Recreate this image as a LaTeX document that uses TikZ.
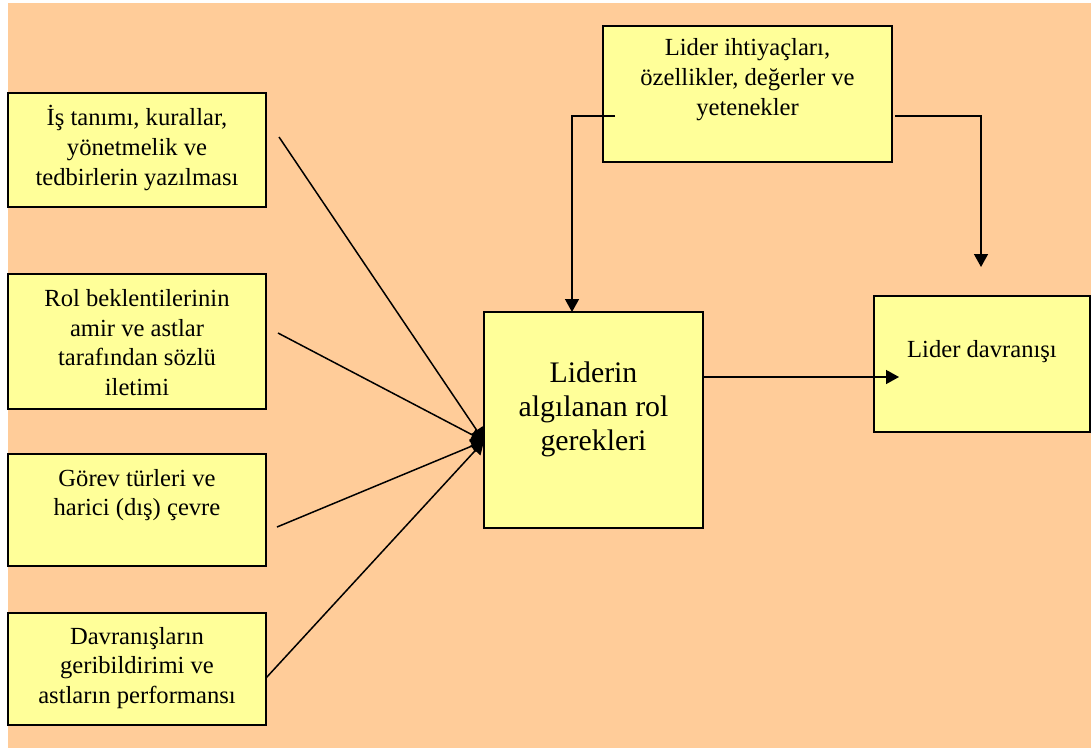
\documentclass[tikz,border=0pt]{standalone}
\usepackage{fontspec}
\setmainfont{Liberation Serif}
\usetikzlibrary{arrows.meta}

\definecolor{peach}{RGB}{255,204,153}
\definecolor{paleyellow}{RGB}{255,255,153}

\tikzset{
  box/.style={draw=black, fill=paleyellow, line width=2pt, inner sep=0pt, outer sep=0pt},
  txt/.style={align=center, inner sep=0pt, font=\fontsize{24.6}{29.7}\selectfont},
  bigtxt/.style={align=center, inner sep=0pt, font=\fontsize{29.8}{34}\selectfont},
  conn/.style={draw=black, line width=1.5pt},
  arr/.style={conn, -{Triangle[length=13pt,width=14pt]}},
}

\begin{document}
\begin{tikzpicture}[x=1pt, y=-1pt]
  \useasboundingbox (0,0) rectangle (1091,748);
  \fill[white] (0,0) rectangle (1091,748);
  \fill[peach] (8,3) rectangle (1091,748);

  % input boxes on the left
  \node[box, minimum width=258, minimum height=114] (b1) at (137,150) {};
  \node[txt] (b1t) at (137,148) {İş tanımı, kurallar,\\yönetmelik ve\\tedbirlerin yazılması};

  \node[box, minimum width=258, minimum height=135] (b2) at (137,341.5) {};
  \node[txt] (b2t) at (137,342.5) {Rol beklentilerinin\\amir ve astlar\\tarafından sözlü\\iletimi};

  \node[box, minimum width=258, minimum height=112] (b3) at (137,510) {};
  \node[txt] (b3t) at (137,495) {Görev türleri ve\\harici (dış) çevre};

  \node[box, minimum width=258, minimum height=112] (b4) at (137,669) {};
  \node[txt] (b4t) at (137,668) {Davranışların\\geribildirimi ve\\astların performansı};

  % leader characteristics
  \node[box, minimum width=289, minimum height=136] (need) at (747.5,94) {};
  \node[txt] (needt) at (747.5,79.5) {Lider ihtiyaçları,\\özellikler, değerler ve\\yetenekler};

  % perceived role requirements
  \node[box, minimum width=219, minimum height=216] (role) at (593.5,420) {};
  \node[bigtxt] (rolet) at (593.5,409.5) {Liderin\\algılanan rol\\gerekleri};

  % leader behaviour
  \node[box, minimum width=216, minimum height=136] (beh) at (982,364) {};
  \node[txt] (beht) at (982,352) {Lider davranışı};

  % connector end points
  \coordinate (hub) at ([yshift=-21pt]role.west);
  \coordinate (s1) at ([xshift=13pt, yshift=13pt]b1.east);
  \coordinate (s2) at ([xshift=12pt, yshift=8.5pt]b2.east);
  \coordinate (s3) at ([xshift=11pt, yshift=-17pt]b3.east);
  \coordinate (s4) at ([yshift=-9pt]b4.east);
  \coordinate (nl) at ([xshift=12pt, yshift=-22pt]need.west);
  \coordinate (nr) at ([xshift=3pt, yshift=-22pt]need.east);
  \coordinate (bin) at ([xshift=25pt]beh.west |- 0,377);

  \draw[arr] (s1) -- (hub);
  \draw[arr] (s2) -- (hub);
  \draw[arr] (s3) -- (hub);
  \draw[arr] (s4) -- (hub);

  \draw[arr] (nl) -- (572,116) -- (572,0 |- role.north);
  \draw[arr] (nr) -- (981,116) -- (981,267);

  \draw[arr] (role.east |- 0,377) -- (bin);
\end{tikzpicture}
\end{document}
